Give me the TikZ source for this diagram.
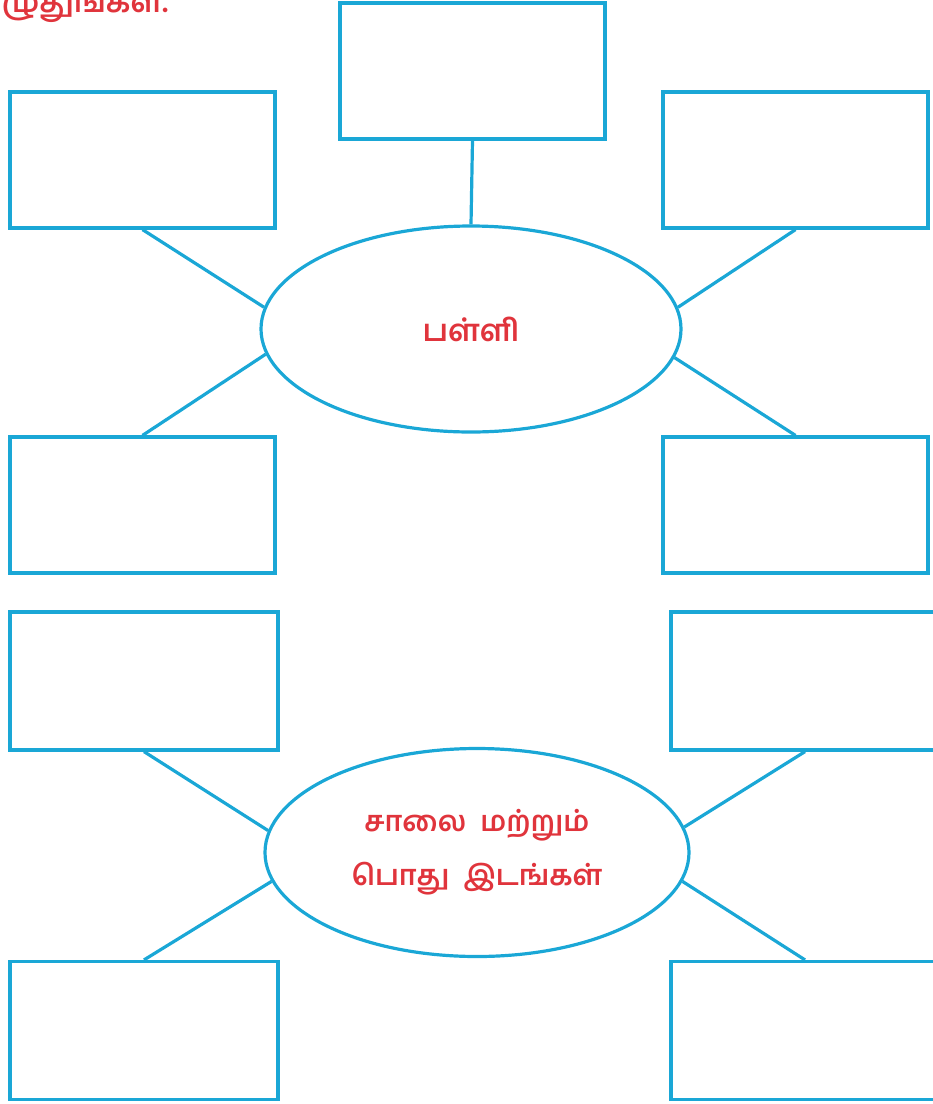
\documentclass[tikz,border=0pt]{standalone}
\usepackage{fontspec}
\newfontfamily\tamilfont[Script=Tamil]{Hind Madurai}
\usetikzlibrary{shapes.geometric}
\definecolor{lineblue}{HTML}{1AA7D6}
\definecolor{txtred}{HTML}{E0343C}
\begin{document}
\begin{tikzpicture}[x=1pt,y=-1pt,
  box/.style={draw=lineblue,line width=3.2pt,rectangle,minimum width=265pt,minimum height=136pt,inner sep=0pt},
  wbox/.style={box,minimum width=268pt,minimum height=138pt},
  oval/.style={draw=lineblue,line width=3.2pt,ellipse,inner sep=0pt,text=txtred,align=center},
  link/.style={draw=lineblue,line width=3.2pt}]
\useasboundingbox (0,0) rectangle (933,1104);
\begin{scope}
\clip (0,0) rectangle (933,1104);
\node[font=\tamilfont\bfseries\fontsize{30}{30}\selectfont,text=txtred,anchor=base east] (head) at (172,12) {எழுதுங்கள்.};
% upper group
\node[oval,minimum width=420pt,minimum height=206pt,font=\tamilfont\bfseries\fontsize{30.5}{50}\selectfont] (e1) at (471,329) {பள்ளி};
\node[box] (top) at (472.5,71) {};
\node[box] (tl) at (142.5,160) {};
\node[box] (tr) at (795.5,160) {};
\node[box] (ml) at (142.5,505) {};
\node[box] (mr) at (795.5,505) {};
\draw[link] (top.south) -- (e1.north);
\draw[link] (tl.south) -- (e1.174);
\draw[link] (tr.south) -- (e1.6.6);
\draw[link] (ml.north) -- (e1.187.3);
\draw[link] (mr.north) -- (e1.352.2);
% lower group
\node[oval,minimum width=424pt,minimum height=208pt,font=\tamilfont\bfseries\fontsize{28.5}{50}\selectfont] (e2) at (477,852.5) {சாலை\ \ மற்றும்\\[4pt]பொது\ \ இடங்கள்};
\node[wbox] (bl1) at (144,681) {};
\node[wbox] (br1) at (805,681) {};
\node[wbox] (bl2) at (144,1030.5) {};
\node[wbox] (br2) at (805,1030.5) {};
\draw[link] (bl1.south) -- (e2.174.5);
\draw[link] (br1.south) -- (e2.7);
\draw[link] (bl2.north) -- (e2.188);
\draw[link] (br2.north) -- (e2.352);
\end{scope}
\end{tikzpicture}
\end{document}
